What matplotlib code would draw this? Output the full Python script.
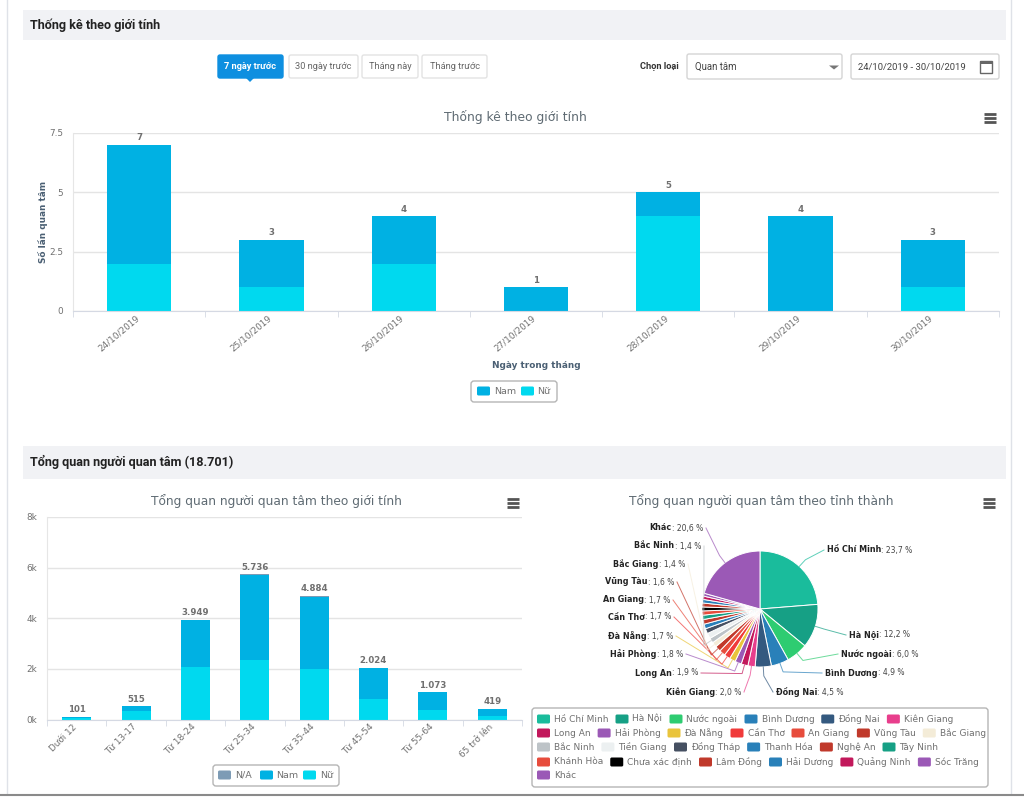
import math
import matplotlib
matplotlib.use("Agg")
import matplotlib.pyplot as plt
from matplotlib.patches import FancyBboxPatch, Rectangle, Polygon
from matplotlib.transforms import ScaledTranslation

W, H = 1024, 799

# data
days = ["24/10/2019", "25/10/2019", "26/10/2019", "27/10/2019", "28/10/2019", "29/10/2019", "30/10/2019"]
day_nam = [5, 2, 2, 1, 1, 4, 2]
day_nu = [2, 1, 2, 0, 4, 0, 1]
day_totals = [7, 3, 4, 1, 5, 4, 3]
day_ticks = [0, 2.5, 5, 7.5]
day_tick_labels = ["0", "2.5", "5", "7.5"]

ages = ["Dưới 12", "Từ 13-17", "Từ 18-24", "Từ 25-34", "Từ 35-44", "Từ 45-54", "Từ 55-64", "65 trở lên"]
age_na = [0, 0, 0, 10, 40, 0, 0, 0]
age_nam = [41, 175, 1889, 3386, 2844, 1214, 703, 289]
age_nu = [60, 340, 2060, 2340, 2000, 810, 370, 130]
age_totals = ["101", "515", "3.949", "5.736", "4.884", "2.024", "1.073", "419"]
age_ticks = [0, 2000, 4000, 6000, 8000]
age_tick_labels = ["0k", "2k", "4k", "6k", "8k"]

provinces = ["Hồ Chí Minh", "Hà Nội", "Nước ngoài", "Bình Dương", "Đồng Nai", "Kiên Giang",
             "Long An", "Hải Phòng", "Đà Nẵng", "Cần Thơ", "An Giang", "Vũng Tàu", "Bắc Giang",
             "Bắc Ninh", "Tiền Giang", "Đồng Tháp", "Thanh Hóa", "Nghệ An", "Tây Ninh",
             "Khánh Hòa", "Chưa xác định", "Lâm Đồng", "Hải Dương", "Quảng Ninh", "Sóc Trăng", "Khác"]
shares = [23.7, 12.2, 6.0, 4.9, 4.5, 2.0, 1.9, 1.8, 1.7, 1.7, 1.7, 1.6, 1.4,
          1.4, 1.5, 1.4, 1.3, 1.3, 1.2, 1.2, 1.1, 1.1, 1.0, 0.9, 0.8, 20.6]
province_colors = ["#1abc9c", "#16a085", "#2ecc71", "#2980b9", "#34597f", "#e83e8c",
                   "#c2185b", "#9b59b6", "#e9c43c", "#f03a3a", "#e74c3c", "#c0392b", "#f4ecd8",
                   "#bdc3c7", "#ecf0f1", "#465062", "#2980b9", "#c0392b", "#16a085",
                   "#e74c3c", "#000000", "#c0392b", "#2980b9", "#c2185b", "#9b59b6", "#9b59b6"]

NAM = "#00b1e3"
NU = "#00d9ef"
NA = "#7d9bb5"
GREY = "#707070"
TITLE = "#5f6b73"

# label placement around the pie: name -> (x, y, side of the pie)
pie_labels = {
    "Hồ Chí Minh": (827, 550, "R"), "Hà Nội": (849, 635, "R"), "Nước ngoài": (841, 654, "R"),
    "Bình Dương": (825, 673, "R"), "Đồng Nai": (776, 692, "R"), "Kiên Giang": (741, 692, "L"),
    "Long An": (698, 673, "L"), "Hải Phòng": (683, 654, "L"), "Đà Nẵng": (673, 636, "L"),
    "Cần Thơ": (671, 617, "L"), "An Giang": (670, 600, "L"), "Vũng Tàu": (674, 582, "L"),
    "Bắc Giang": (685, 564, "L"), "Bắc Ninh": (701, 546, "L"), "Khác": (703, 528, "L"),
}

plt.rcParams["font.family"] = ["DejaVu Sans"]
fig = plt.figure(figsize=(W / 100, H / 100), dpi=100)
fig.patch.set_facecolor("white")


def px_axes(left, top, right, bottom, **kw):
    return fig.add_axes([left / W, 1 - bottom / H, (right - left) / W, (bottom - top) / H], **kw)


def style_bar_axes(ax, n, ticks, tick_labels, ymax, labels, rotation):
    ax.set_xlim(-0.5, n - 0.5)
    ax.set_ylim(0, ymax)
    for s in ["top", "right"]:
        ax.spines[s].set_visible(False)
    ax.spines["left"].set_color("#e6e6e6")
    ax.spines["bottom"].set_color("#d5d9e3")
    ax.set_yticks(ticks)
    ax.set_yticklabels(tick_labels, fontsize=6.4, color=GREY)
    ax.tick_params(axis="y", length=0, pad=7)
    ax.grid(axis="y", color="#e4e4e4", lw=1)
    ax.set_axisbelow(True)
    ax.set_xticks(range(n))
    ax.set_xticklabels(labels, rotation=rotation, ha="right", rotation_mode="anchor", fontsize=6.4, color=GREY)
    ax.tick_params(axis="x", length=0, pad=2)
    # pull the slanted labels back under the bar centre
    shift = ScaledTranslation(-4 / 100, 0, fig.dpi_scale_trans)
    for lab in ax.get_xticklabels():
        lab.set_transform(lab.get_transform() + shift)
    ax.set_xticks([i - 0.5 for i in range(n + 1)], minor=True)
    ax.tick_params(axis="x", which="minor", length=4, color="#d5d9e3")


# top chart
ax1 = px_axes(73, 133, 999, 311)
x1 = list(range(len(days)))
ax1.bar(x1, day_nu, width=0.485, color=NU)
ax1.bar(x1, day_nam, width=0.485, bottom=day_nu, color=NAM)
style_bar_axes(ax1, len(days), day_ticks, day_tick_labels, 7.5, days, 40)
for x, t in zip(x1, day_totals):
    ax1.text(x, t + 0.1, str(t), ha="center", va="bottom", fontsize=6.2, fontweight="bold", color=GREY)

# bottom left chart
ax2 = px_axes(47, 517, 522, 719.5)
x2 = list(range(len(ages)))
ax2.bar(x2, age_nu, width=0.49, color=NU)
ax2.bar(x2, age_nam, width=0.49, bottom=age_nu, color=NAM)
ax2.bar(x2, age_na, width=0.49, bottom=[a + b for a, b in zip(age_nu, age_nam)], color=NA)
style_bar_axes(ax2, len(ages), age_ticks, age_tick_labels, 8000, ages, 45)
for x, a, b, c, t in zip(x2, age_nu, age_nam, age_na, age_totals):
    ax2.text(x, a + b + c + 110, t, ha="center", va="bottom", fontsize=6.2, fontweight="bold", color=GREY)

# pie
PX, PY, PR = 760, 609, 58
ax3 = px_axes(PX - PR, PY - PR, PX + PR, PY + PR)
ax3.pie(shares, colors=province_colors, startangle=90, counterclock=False, radius=1,
        wedgeprops=dict(edgecolor="white", linewidth=0.7))
ax3.set_xlim(-1, 1)
ax3.set_ylim(-1, 1)
ax3.set_aspect("equal")

# overlay in picture pixels for the page furniture
ui = fig.add_axes([0, 0, 1, 1], zorder=5)
ui.set_xlim(0, W)
ui.set_ylim(H, 0)
ui.axis("off")
ui.patch.set_alpha(0)
renderer = fig.canvas.get_renderer()


def box(x0, y0, x1, y1, fc="white", ec="#e3e3e3", lw=1, r=2):
    ui.add_patch(FancyBboxPatch((x0 + r, y0 + r), x1 - x0 - 2 * r, y1 - y0 - 2 * r,
                                boxstyle=f"round,pad={r},rounding_size={r}", fc=fc, ec=ec, lw=lw))


def burger(cx, cy):
    for dy in (-4, 0, 4):
        ui.plot([cx - 6, cx + 6], [cy + dy, cy + dy], color="#555555", lw=2, solid_capstyle="butt")


def chart_legend(x0, y0, x1, y1, items):
    box(x0, y0, x1, y1, ec="#b5b5b5", lw=1, r=3)
    cy = (y0 + y1) / 2
    for sx, tx, color, name in items:
        box(sx, cy - 5, sx + 13, cy + 4, fc=color, ec=color, lw=0, r=1.5)
        ui.text(tx, cy, name, fontsize=6.8, color=GREY, va="center")


# page frame and header bands
ui.plot([6.5, 6.5], [0, 794], color="#dfe2e8", lw=1)
ui.plot([1011, 1011], [0, 794], color="#dfe2e8", lw=1)
ui.plot([0, 1024], [795, 795], color="#8a8a8a", lw=1.5)
ui.add_patch(Rectangle((23, 10), 983, 30, fc="#f1f2f5", ec="none"))
ui.add_patch(Rectangle((23, 446), 983, 33, fc="#f1f2f5", ec="none"))
ui.text(30, 25, "Thống kê theo giới tính", fontsize=9.05, family="Roboto", fontweight="bold", color="#222222", va="center")
ui.text(30, 462, "Tổng quan người quan tâm (18.701)", fontsize=9.05, family="Roboto", fontweight="bold", color="#222222", va="center")

# period buttons
box(218, 55, 283, 78, fc="#0e8fe0", ec="#0e8fe0")
ui.add_patch(Polygon([[246, 78], [254, 78], [250, 82]], fc="#0e8fe0", ec="none"))
ui.text(250.5, 66.5, "7 ngày trước", fontsize=6.7, family="Roboto", fontweight="bold", color="white", ha="center", va="center")
for x0, x1, name in [(289, 358, "30 ngày trước"), (362, 418, "Tháng này"), (422, 487, "Tháng trước")]:
    box(x0, 55, x1, 78)
    ui.text((x0 + x1) / 2, 66.5, name, fontsize=6.7, family="Roboto", color="#666666", ha="center", va="center")

# filters
ui.text(659, 66.5, "Chọn loại", fontsize=6.7, family="Roboto", fontweight="bold", color="#333333", ha="center", va="center")
box(687, 54, 842, 79, ec="#d5d5d5")
ui.text(695, 67, "Quan tâm", fontsize=6.9, family="Roboto", color="#444444", va="center")
ui.add_patch(Polygon([[829, 65.5], [839, 65.5], [834, 69.5]], fc="#777777", ec="none"))
box(851, 54, 999, 79, ec="#d5d5d5")
ui.text(912, 67, "24/10/2019 - 30/10/2019", fontsize=6.8, family="Roboto", color="#444444", ha="center", va="center")
ui.add_patch(Rectangle((980, 61), 12, 12, fc="white", ec="#666666", lw=1))
ui.add_patch(Rectangle((980, 61), 12, 3, fc="#666666", ec="none"))

# chart titles and icons
ui.text(515, 117, "Thống kê theo giới tính", fontsize=8.9, color=TITLE, ha="center", va="center")
ui.text(276, 501, "Tổng quan người quan tâm theo giới tính", fontsize=8.85, color=TITLE, ha="center", va="center")
ui.text(761, 501, "Tổng quan người quan tâm theo tỉnh thành", fontsize=8.8, color=TITLE, ha="center", va="center")
burger(990, 118)
burger(513, 503)
burger(989, 503)

# axis titles
ui.text(43, 222, "Số lần quan tâm", fontsize=6.4, fontweight="bold", color="#4a5f73", rotation=90, ha="center", va="center")
ui.text(536, 365, "Ngày trong tháng", fontsize=6.4, fontweight="bold", color="#4a5f73", ha="center", va="center")

# bar legends
chart_legend(471, 381, 557, 402, [(477, 494, NAM, "Nam"), (521, 537, NU, "Nữ")])
chart_legend(213, 765, 339, 786, [(218, 235, NA, "N/A"), (260, 276, NAM, "Nam"), (303, 320, NU, "Nữ")])

# pie labels and connectors
total = sum(shares)
acc = 0
for name, share, color in zip(provinces, shares, province_colors):
    theta = math.radians((acc + share / 2) / total * 360)
    acc += share
    if name not in pie_labels:
        continue
    lx, ly, side = pie_labels[name]
    val_text = f": {share:.1f} %".replace(".", ",")
    if side == "L":
        v = ui.text(lx, ly, val_text, fontsize=5.5, color="#444444", ha="right", va="center")
        left = v.get_window_extent(renderer).x0
        ui.text(left, ly, name, fontsize=5.8, fontweight="bold", color="#222222", ha="right", va="center")
        end = lx + 3
    else:
        n = ui.text(lx, ly, name, fontsize=5.8, fontweight="bold", color="#222222", ha="left", va="center")
        right = n.get_window_extent(renderer).x1
        ui.text(right, ly, val_text, fontsize=5.5, color="#444444", ha="left", va="center")
        end = lx - 3
    ex, ey = PX + PR * math.sin(theta), PY - PR * math.cos(theta)
    mx, my = PX + (PR + 9) * math.sin(theta), PY - (PR + 9) * math.cos(theta)
    ui.plot([ex, mx, end], [ey, my, ly], color=color, lw=0.7, alpha=0.7)

# province legend, rows flow left to right
box(532, 708, 988, 787, ec="#b5b5b5", r=3)
row_sizes = [6, 7, 6, 6, 1]
row_ys = [719, 733, 747, 762, 775]
i = 0
for size, ry in zip(row_sizes, row_ys):
    x = 537
    for name, color in zip(provinces[i:i + size], province_colors[i:i + size]):
        box(x, ry - 4.5, x + 13, ry + 4.5, fc=color, ec=color, lw=0, r=1.5)
        t = ui.text(x + 17, ry, name, fontsize=6.5, color=GREY, va="center")
        x = t.get_window_extent(renderer).x1 + 7
    i += size

fig.savefig("out.png", dpi=100)
